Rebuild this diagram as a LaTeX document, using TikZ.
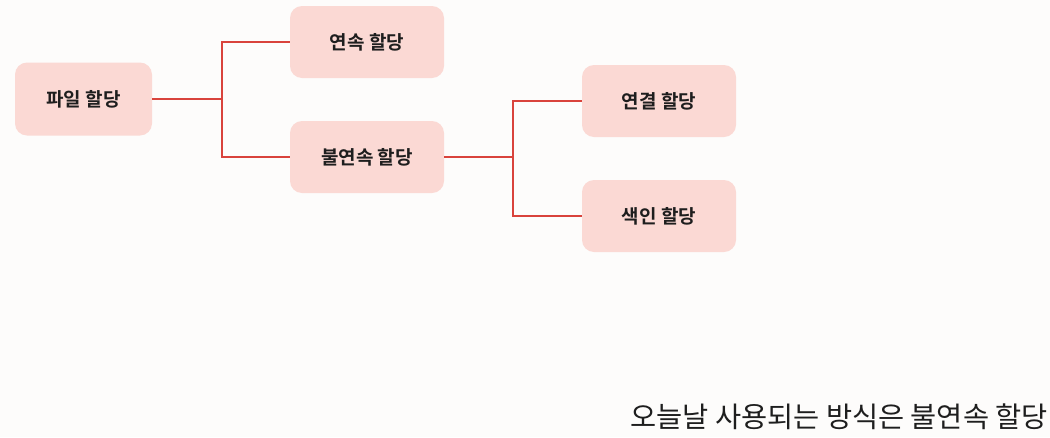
\documentclass[tikz,border=0pt]{standalone}
\usepackage{fontspec}
\newfontfamily\kr{Noto Sans CJK KR}
\newfontfamily\krb{Noto Sans CJK KR Bold}
\definecolor{bg}{HTML}{FDFCFB}
\definecolor{boxfill}{HTML}{FBD9D4}
\definecolor{linecol}{HTML}{D9433C}
\definecolor{txt}{HTML}{1E1E1E}
\begin{document}
\begin{tikzpicture}[x=1pt,y=-1pt,
  item/.style={fill=boxfill, rounded corners=12pt, minimum width=154pt, minimum height=72pt, inner sep=0pt, text=txt, font=\krb\fontsize{19}{22}\selectfont},
  link/.style={draw=linecol, line width=1.1pt}]
\fill[bg] (0,0) rectangle (1050,437);
\useasboundingbox (0,0) rectangle (1050,437);
\node[item, minimum width=137pt, minimum height=73pt] (file) at (83.5,99) {파일 할당};
\node[item] (cont) at (367,42) {연속 할당};
\node[item] (noncont) at (367,157) {불연속 할당};
\node[item] (linked) at (659,101) {연결 할당};
\node[item] (indexed) at (659,216) {색인 할당};
\coordinate (j1) at (222,99);
\coordinate (j2) at (513,157);
\draw[link] (file.east) -- (j1);
\draw[link] (cont.west) -| (j1) |- (noncont.west);
\draw[link] (noncont.east) -- (j2);
\draw[link] (linked.west) -| (j2) |- (indexed.west);
\node[anchor=base east, inner sep=0pt, text=txt, font=\kr\fontsize{28.4}{32}\selectfont] (caption) at (1048,427) {오늘날 사용되는 방식은 불연속 할당};
\end{tikzpicture}
\end{document}
